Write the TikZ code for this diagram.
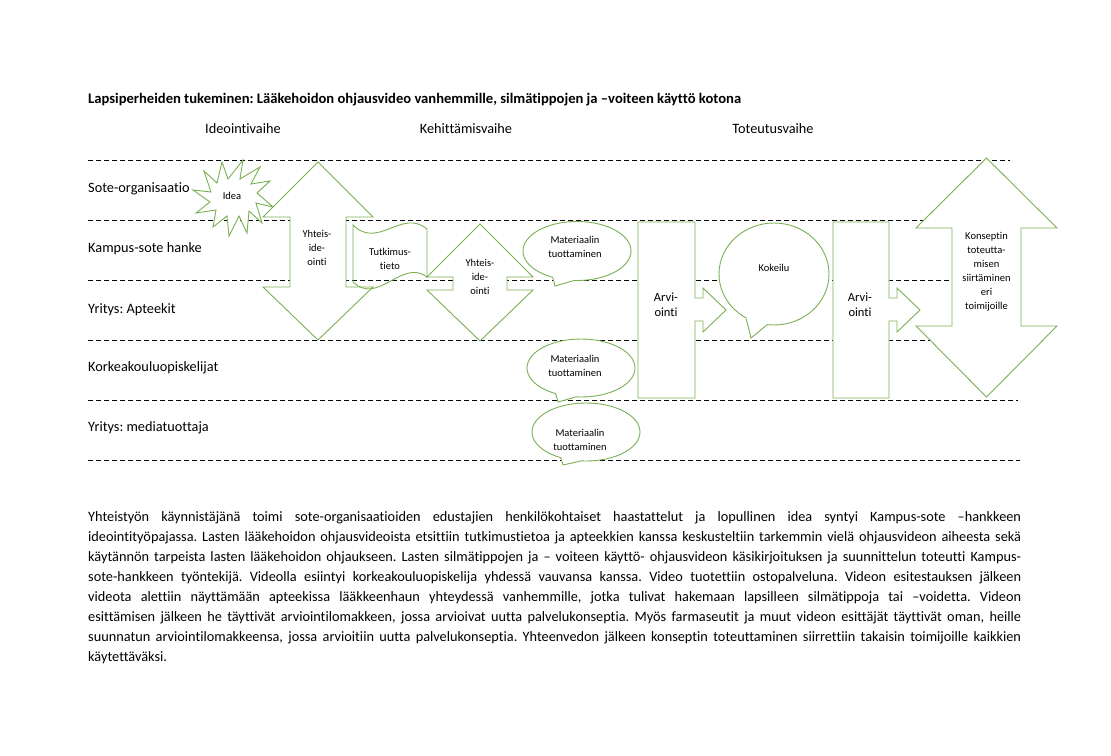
\documentclass[tikz,border=0pt]{standalone}
\usepackage{fontspec}
\setmainfont{Carlito}[Ligatures=NoCommon]
\usetikzlibrary{shapes.geometric,calc}
\definecolor{shgreen}{RGB}{122,176,84}
\frenchspacing
\begin{document}
\begin{tikzpicture}[x=1pt,y=-1pt,
  lane/.style={dash pattern=on 4.5pt off 3.5pt, line width=0.9pt, black},
  shp/.style={draw=shgreen, line width=0.9pt, fill=white, line join=miter},
  outl/.style={draw=shgreen, line width=0.9pt},
  lbl/.style={anchor=west, inner sep=0pt, font=\fontsize{14.3}{17}\selectfont},
  hdr/.style={inner sep=0pt, font=\fontsize{14.3}{17}\selectfont},
  ttl/.style={anchor=west, inner sep=0pt, font=\fontsize{14.6}{17}\selectfont\bfseries},
  small/.style={inner sep=0pt, align=center, font=\fontsize{10.5}{14}\selectfont},
  mid/.style={inner sep=0pt, align=center, font=\fontsize{12.5}{15}\selectfont},
  para/.style={anchor=west, inner sep=0pt, font=\fontsize{14.3}{17}\selectfont},
  bubble/.style={ellipse, shp, inner sep=0pt},
]
\fill[white] (0,0) rectangle (1111,755);
\useasboundingbox (0,0) rectangle (1111,755);

% title and phases
\node[ttl] (title) at (88,100) {Lapsiperheiden tukeminen: Lääkehoidon ohjausvideo vanhemmille, silmätippojen ja –voiteen käyttö kotona};
\node[hdr] (ph1) at (243,129) {Ideointivaihe};
\node[hdr] (ph2) at (466,129) {Kehittämisvaihe};
\node[hdr] (ph3) at (773,129) {Toteutusvaihe};

% lanes
\coordinate (l1a) at (88,160);  \coordinate (l1b) at (1010,160);
\coordinate (l2a) at (88,220);  \coordinate (l2b) at (1010,220);
\coordinate (l3a) at (88,280);  \coordinate (l3b) at (1010,280);
\coordinate (l4a) at (88,340);  \coordinate (l4b) at (1010,340);
\coordinate (l5a) at (88,400);  \coordinate (l5b) at (1018,400);
\coordinate (l6a) at (88,460);  \coordinate (l6b) at (1020,460);
\foreach \i in {1,...,6} {\draw[lane] (l\i a) -- (l\i b);}

\node[lbl] (lane1) at (88,189) {Sote-organisaatio};
\node[lbl] (lane2) at (88,249) {Kampus-sote hanke};
\node[lbl] (lane3) at (88,310) {Yritys: Apteekit};
\node[lbl] (lane4) at (88,368) {Korkeakouluopiskelijat};
\node[lbl] (lane5) at (88,428) {Yritys: mediatuottaja};

% Idea explosion
\draw[shp] (193,190) -- (211,192) -- (204,171) -- (217,183) -- (222,162) -- (228,179)
  -- (243,160) -- (240,179) -- (260,167) -- (251,184) -- (270,181) -- (257,193)
  -- (273,207) -- (256,203) -- (262,223) -- (249,211) -- (247,233) -- (239,216)
  -- (229,236) -- (227,216) -- (213,227) -- (216,210) -- (196,213) -- (210,202) -- cycle;
\node[small] (idea) at (232,196) {Idea};

% big up-down arrow
\draw[shp] (318,162) -- (373,217) -- (346,217) -- (346,287) -- (373,287) -- (318,340)
  -- (263,287) -- (290,287) -- (290,217) -- (263,217) -- cycle;
\node[small] (yi1) at (317,248) {Yhteis-\\ide-\\ointi};

% Tutkimustieto wave
\draw[outl] (353,225) .. controls (378,250) and (402,208) .. (427,229)
  -- (427,277) .. controls (402,258) and (378,306) .. (353,282) -- cycle;
\node[small] (tutk) at (390,259) {Tutkimus-\\tieto};

% small up-down arrow
\draw[shp] (480,224) -- (533,277) -- (507,277) -- (507,290) -- (533,290) -- (480,341)
  -- (427,290) -- (453,290) -- (453,277) -- (427,277) -- cycle;
\node[small] (yi2) at (480,277) {Yhteis-\\ide-\\ointi};

% Materiaalin callouts
\node[bubble, minimum width=108pt, minimum height=59pt] (m1) at (577,251) {};
\coordinate (m1t) at (555,286);
\fill[white] (m1t) -- (m1.228) -- ($(m1.228)!0.12!(m1.center)$) -- ($(m1.262)!0.12!(m1.center)$) -- (m1.262) -- cycle;
\draw[outl] (m1.228) -- (m1t) -- (m1.262);
\node[small] (m1x) at (575,247) {Materiaalin\\tuottaminen};

\node[bubble, minimum width=108pt, minimum height=58pt] (m2) at (581,368) {};
\coordinate (m2t) at (558,402);
\fill[white] (m2t) -- (m2.226) -- ($(m2.226)!0.12!(m2.center)$) -- ($(m2.258)!0.12!(m2.center)$) -- (m2.258) -- cycle;
\draw[outl] (m2.226) -- (m2t) -- (m2.258);
\node[small] (m2x) at (575,366) {Materiaalin\\tuottaminen};

\node[bubble, minimum width=108pt, minimum height=58pt] (m3) at (586,432) {};
\coordinate (m3t) at (563,465);
\fill[white] (m3t) -- (m3.226) -- ($(m3.226)!0.12!(m3.center)$) -- ($(m3.258)!0.12!(m3.center)$) -- (m3.258) -- cycle;
\draw[outl] (m3.226) -- (m3t) -- (m3.258);
\node[small] (m3x) at (580,440) {Materiaalin\\tuottaminen};

% Arviointi 1
\draw[shp] (638,222) -- (695,222) -- (695,298) -- (703,298) -- (703,288) -- (726,310)
  -- (703,332) -- (703,321) -- (695,321) -- (695,398) -- (638,398) -- cycle;
\node[mid] (arv1) at (666,305) {Arvi-\\ointi};

% Kokeilu
\node[bubble, minimum width=110pt, minimum height=102pt] (kok) at (774,274) {};
\coordinate (kokt) at (751,338);
\fill[white] (kokt) -- (kok.238) -- ($(kok.238)!0.08!(kok.center)$) -- ($(kok.262)!0.08!(kok.center)$) -- (kok.262) -- cycle;
\draw[outl] (kok.238) -- (kokt) -- (kok.262);
\node[small] (kokx) at (774,268) {Kokeilu};

% Arviointi 2
\draw[shp] (833,222) -- (889,222) -- (889,298) -- (897,298) -- (897,288) -- (920,310)
  -- (897,332) -- (897,321) -- (889,321) -- (889,398) -- (833,398) -- cycle;
\node[mid] (arv2) at (860,305) {Arvi-\\ointi};

% Konseptin arrow
\draw[shp] (986.5,158) -- (1057,228) -- (1021,228) -- (1021,326) -- (1057,326) -- (986.5,397)
  -- (916,326) -- (952,326) -- (952,228) -- (916,228) -- cycle;
\node[small] (kons) at (986.5,272) {Konseptin\\toteutta-\\misen\\siirtäminen\\eri\\toimijoille};

% paragraph
\node[para] (p1) at (88,518) {\makebox[933pt][s]{Yhteistyön käynnistäjänä toimi sote-organisaatioiden edustajien henkilökohtaiset haastattelut ja lopullinen idea syntyi Kampus-sote –hankkeen}};
\node[para] (p2) at (88,538) {\makebox[933pt][s]{ideointityöpajassa. Lasten lääkehoidon ohjausvideoista etsittiin tutkimustietoa ja apteekkien kanssa keskusteltiin tarkemmin vielä ohjausvideon aiheesta sekä}};
\node[para] (p3) at (88,558) {\makebox[933pt][s]{käytännön tarpeista lasten lääkehoidon ohjaukseen. Lasten silmätippojen ja – voiteen käyttö- ohjausvideon käsikirjoituksen ja suunnittelun toteutti Kampus-}};
\node[para] (p4) at (88,578) {\makebox[933pt][s]{sote-hankkeen työntekijä. Videolla esiintyi korkeakouluopiskelija yhdessä vauvansa kanssa. Video tuotettiin ostopalveluna. Videon esitestauksen jälkeen}};
\node[para] (p5) at (88,598) {\makebox[933pt][s]{videota alettiin näyttämään apteekissa lääkkeenhaun yhteydessä vanhemmille, jotka tulivat hakemaan lapsilleen silmätippoja tai –voidetta. Videon}};
\node[para] (p6) at (88,618) {\makebox[933pt][s]{esittämisen jälkeen he täyttivät arviointilomakkeen, jossa arvioivat uutta palvelukonseptia. Myös farmaseutit ja muut videon esittäjät täyttivät oman, heille}};
\node[para] (p7) at (88,638) {\makebox[933pt][s]{suunnatun arviointilomakkeensa, jossa arvioitiin uutta palvelukonseptia. Yhteenvedon jälkeen konseptin toteuttaminen siirrettiin takaisin toimijoille kaikkien}};
\node[para] (p8) at (88,658) {käytettäväksi.};
\end{tikzpicture}
\end{document}
